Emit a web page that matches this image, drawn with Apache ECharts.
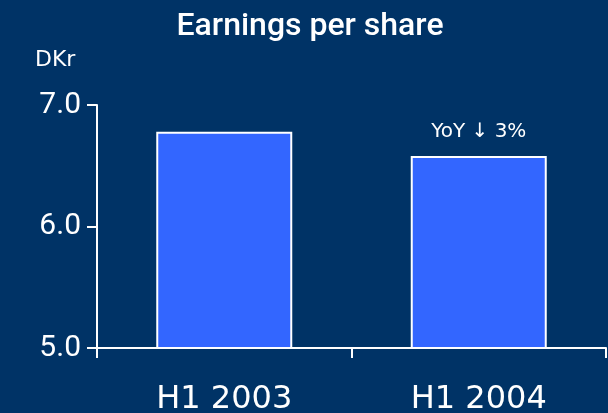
<!DOCTYPE html>
<html>
<head>
<meta charset="utf-8">
<script src="https://cdn.jsdelivr.net/npm/echarts@6/dist/echarts.min.js"></script>
<style>
  html, body { margin: 0; padding: 0; background: #003366; }
  #chart { width: 608px; height: 413px; }
</style>
</head>
<body>
<div id="chart"></div>
<script>
// data
const periods = ['H1 2003', 'H1 2004']
const eps = [6.78, 6.58]
const notes = ['', 'YoY \u2193 3%']
const yTicks = [5, 6, 7]

const font = 'Roboto, "DejaVu Sans", sans-serif'
const wide = '"DejaVu Sans", sans-serif'
const chart = echarts.init(document.getElementById('chart'))

chart.setOption({
  backgroundColor: '#003366',
  animation: false,
  title: {
    text: 'Earnings per share',
    left: 305,
    textAlign: 'center',
    top: 6,
    textStyle: { color: '#fff', fontSize: 32, fontWeight: 500, fontFamily: font }
  },
  graphic: [{
    type: 'text',
    left: 35,
    top: 49,
    style: { text: 'DKr', fill: '#fff', fontSize: 22, fontFamily: wide }
  }],
  grid: { left: 97, right: 2, top: 105, bottom: 65, outerBoundsMode: 'none' },
  xAxis: {
    type: 'category',
    data: periods,
    axisLine: { lineStyle: { color: '#fff', width: 2 } },
    axisTick: { show: true, length: 10, lineStyle: { color: '#fff', width: 2 } },
    axisLabel: { color: '#fff', fontSize: 32, fontFamily: wide, margin: 36 }
  },
  yAxis: {
    type: 'value',
    min: yTicks[0],
    max: yTicks[yTicks.length - 1],
    interval: 1,
    splitLine: { show: false },
    axisLine: { show: true, lineStyle: { color: '#fff', width: 2 } },
    axisTick: { show: true, length: 10, lineStyle: { color: '#fff', width: 2 } },
    axisLabel: {
      color: '#fff', fontSize: 30, fontFamily: font, margin: 16,
      formatter: v => v.toFixed(1)
    }
  },
  series: [{
    type: 'bar',
    data: eps,
    barWidth: 136,
    itemStyle: { color: '#3366ff', borderColor: '#fff', borderWidth: 2 },
    label: {
      show: true,
      position: 'top',
      distance: 14,
      color: '#fff',
      fontSize: 20,
      fontFamily: wide,
      formatter: p => notes[p.dataIndex]
    }
  }]
})
</script>
</body>
</html>
